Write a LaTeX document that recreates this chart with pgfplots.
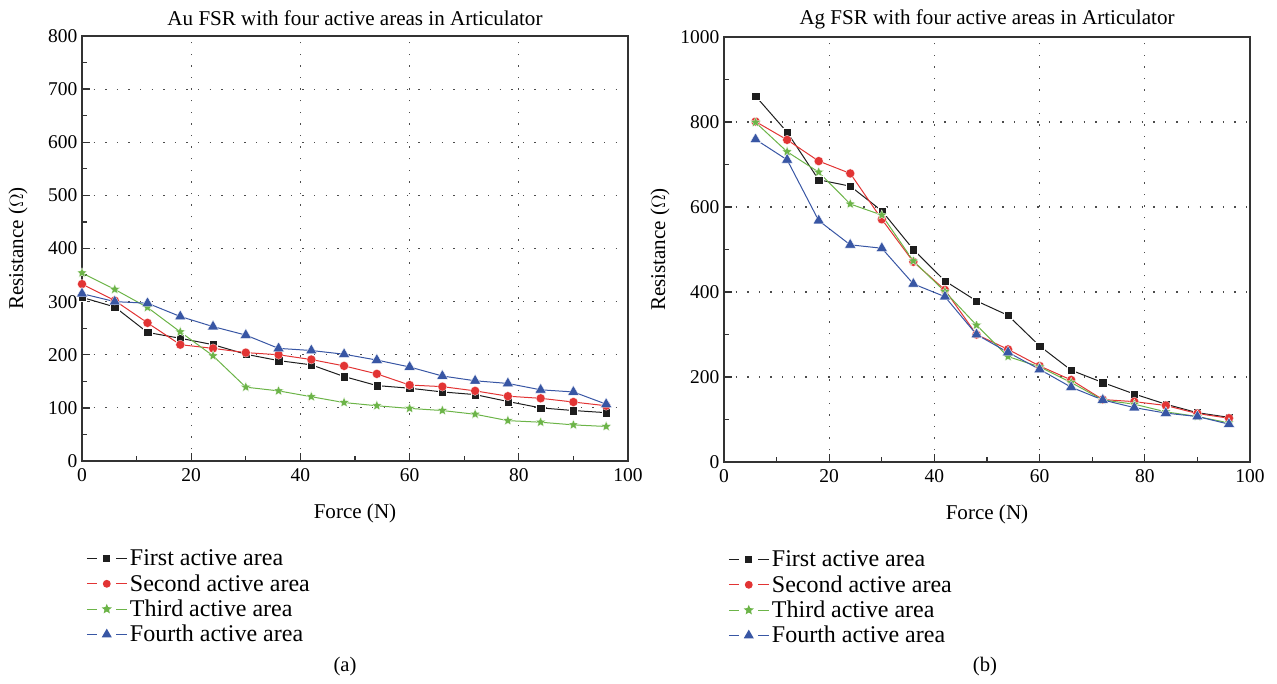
\documentclass[border=0pt]{standalone}
\usepackage{fontspec}
\setmainfont{Liberation Serif}
\newfontfamily\legfont{Liberation Serif}
\usepackage{pgfplots}
\pgfplotsset{compat=1.18}

\definecolor{cblack}{RGB}{30,30,30}
\definecolor{cred}{RGB}{226,52,52}
\definecolor{cgreen}{RGB}{108,180,72}
\definecolor{cblue}{RGB}{56,86,164}

% filled five-pointed star
\pgfdeclareplotmark{fstar}{%
  \pgfpathmoveto{\pgfpointpolar{90}{\pgfplotmarksize}}%
  \pgfpathlineto{\pgfpointpolar{126}{0.45\pgfplotmarksize}}%
  \pgfpathlineto{\pgfpointpolar{162}{\pgfplotmarksize}}%
  \pgfpathlineto{\pgfpointpolar{198}{0.45\pgfplotmarksize}}%
  \pgfpathlineto{\pgfpointpolar{234}{\pgfplotmarksize}}%
  \pgfpathlineto{\pgfpointpolar{270}{0.45\pgfplotmarksize}}%
  \pgfpathlineto{\pgfpointpolar{306}{\pgfplotmarksize}}%
  \pgfpathlineto{\pgfpointpolar{342}{0.45\pgfplotmarksize}}%
  \pgfpathlineto{\pgfpointpolar{18}{\pgfplotmarksize}}%
  \pgfpathlineto{\pgfpointpolar{54}{0.45\pgfplotmarksize}}%
  \pgfpathclose
  \pgfusepathqfillstroke}

\pgfplotsset{
  fsr/.style={
    scale only axis,
    anchor=north west,
    font=\rmfamily\fontsize{15.8}{18}\selectfont,
    ticklabel style={font=\rmfamily\fontsize{14.6}{16}\selectfont},
    /pgf/number format/assume math mode=true,
    /pgf/number format/1000 sep={},
    axis line style={line width=1.3pt, draw=black!80},
    tick pos=left,
    tick align=inside,
    major tick length=6pt,
    minor tick length=3.5pt,
    tick style={line width=1pt, draw=black!80},
    grid=major,
    major grid style={line width=0.9pt, dash pattern=on 1.1pt off 7.6pt, draw=black!70},
    xmin=0, xmax=100,
    xtick={0,20,...,100},
    minor x tick num=1,
    xticklabel style={yshift=-2pt},
    xlabel={Force (N)},
    xlabel style={at={(axis description cs:0.5,-0.1223)}, anchor=center},
    ylabel={Resistance ($\Omega$)},
    title style={at={(axis description cs:0.5,1)}, anchor=center, yshift=7.5pt},
    legend cell align=left,
    legend style={draw=none, fill=none, at={(0,-0.196)}, anchor=north west,
      font=\legfont\fontsize{18}{20}\selectfont, row sep=1pt,
      nodes={font=\legfont\fontsize{18}{20}\selectfont}},
    legend image code/.code={
      \draw[##1,mark=none] (0pt,0pt) -- (8pt,0pt);
      \draw[##1,mark=none] (22pt,0pt) -- (30pt,0pt);
      \draw[##1,mark options={scale=0.75}] plot coordinates {(15pt,0pt)};
    },
  },
  s1/.style={color=cblack, line width=0.75pt, mark=square*, mark size=3.1pt, mark options={draw=white, line width=0.2pt, fill=cblack}},
  s2/.style={color=cred, line width=0.75pt, mark=*, mark size=3.4pt, mark options={draw=white, line width=0.2pt, fill=cred}},
  s3/.style={color=cgreen, line width=0.75pt, mark=fstar, mark size=4pt, mark options={draw=white, line width=0.2pt, fill=cgreen}},
  s4/.style={color=cblue, line width=0.75pt, mark=triangle*, mark size=4.8pt, mark options={draw=white, line width=0.2pt, fill=cblue}},
}

\begin{document}
\begin{tikzpicture}
\path (0pt,0pt) rectangle (957.75pt,-513pt);

\begin{axis}[fsr,
  at={(61.5pt,-27pt)},
  width=409.5pt, height=318.75pt,
  ymin=0, ymax=800,
  ytick={0,100,...,800},
  minor y tick num=1,
  ylabel style={at={(axis description cs:-0.1172,0.5)}, anchor=center},
  title={Au FSR with four active areas in Articulator},
]
\addplot[s1] coordinates {
(0,308)(6,290)(12,242)(18,231)(24,219)(30,201)(36,189)(42,181)(48,159)
(54,142)(60,137)(66,130)(72,125)(78,112)(84,100)(90,95)(96,91)};
\addplot[s2] coordinates {
(0,333)(6,302)(12,260)(18,219)(24,212)(30,204)(36,200)(42,191)(48,179)
(54,164)(60,143)(66,140)(72,132)(78,122)(84,118)(90,111)(96,104)};
\addplot[s3] coordinates {
(0,354)(6,323)(12,289)(18,243)(24,198)(30,139)(36,132)(42,121)(48,110)
(54,104)(60,99)(66,95)(72,88)(78,76)(84,73)(90,68)(96,65)};
\addplot[s4] coordinates {
(0,315)(6,300)(12,297)(18,272)(24,253)(30,237)(36,212)(42,208)(48,201)
(54,190)(60,177)(66,160)(72,151)(78,146)(84,134)(90,130)(96,107)};
\legend{First active area, Second active area, Third active area, Fourth active area}
\end{axis}

\begin{axis}[fsr,
  at={(543pt,-27.75pt)},
  width=394.5pt, height=318.75pt,
  ymin=0, ymax=1000,
  ytick={0,200,...,1000},
  minor y tick num=1,
  ylabel style={at={(axis description cs:-0.1217,0.5)}, anchor=center},
  title={Ag FSR with four active areas in Articulator},
]
\addplot[s1] coordinates {
(6,861)(12,776)(18,664)(24,649)(30,591)(36,500)(42,426)(48,379)
(54,345)(60,273)(66,216)(72,187)(78,160)(84,136)(90,116)(96,105)};
\addplot[s2] coordinates {
(6,801)(12,758)(18,708)(24,679)(30,571)(36,471)(42,405)(48,300)
(54,265)(60,226)(66,193)(72,147)(78,142)(84,133)(90,114)(96,103)};
\addplot[s3] coordinates {
(6,799)(12,730)(18,682)(24,607)(30,581)(36,473)(42,401)(48,322)
(54,248)(60,224)(66,187)(72,146)(78,136)(84,118)(90,107)(96,92)};
\addplot[s4] coordinates {
(6,759)(12,711)(18,568)(24,511)(30,503)(36,419)(42,389)(48,300)
(54,258)(60,218)(66,176)(72,146)(78,128)(84,115)(90,107)(96,89)};
\legend{First active area, Second active area, Third active area, Fourth active area}
\end{axis}

\node[font=\rmfamily\fontsize{15.5}{17}\selectfont] at (258.75pt,-500.25pt) {(a)};
\node[font=\rmfamily\fontsize{15.5}{17}\selectfont] at (738.75pt,-500.25pt) {(b)};
\end{tikzpicture}
\end{document}
